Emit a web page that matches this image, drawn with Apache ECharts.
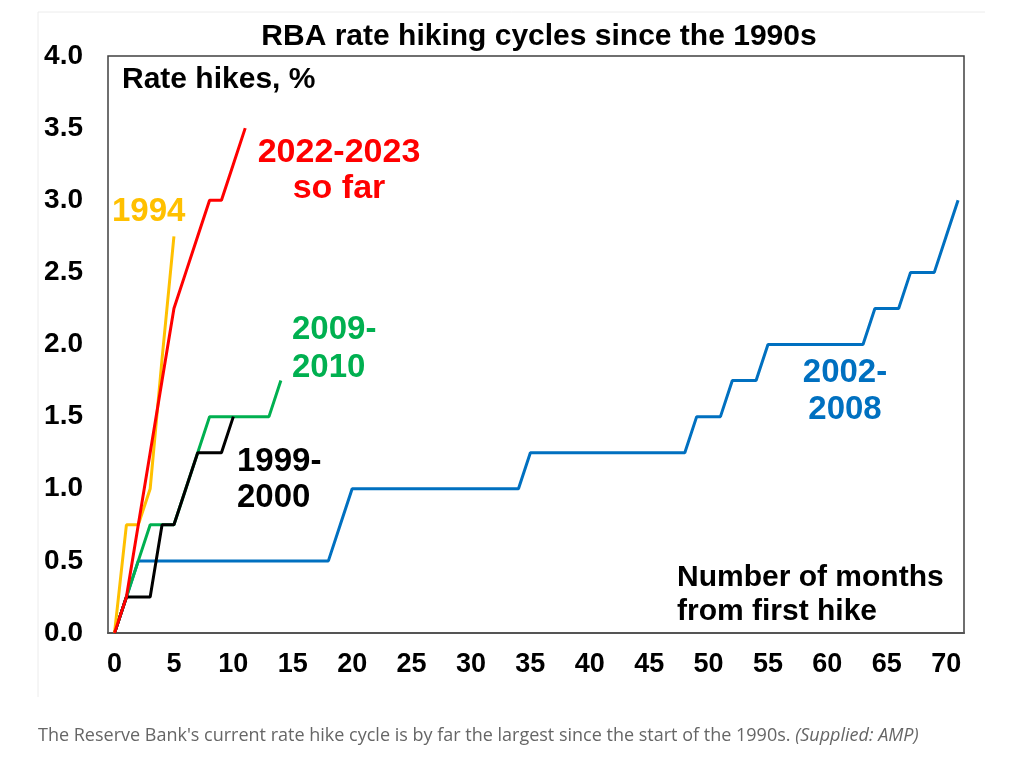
<!DOCTYPE html>
<html>
<head>
<meta charset="utf-8">
<script src="https://cdn.jsdelivr.net/npm/echarts@6/dist/echarts.min.js"></script>
<style>
  html, body { margin: 0; padding: 0; background: #fff; }
  #chart { width: 1027px; height: 768px; }
</style>
</head>
<body>
<div id="chart"></div>
<script>
// 数据：从首次加息起的月数 / 累计加息幅度(%)
const xTicks = [0, 5, 10, 15, 20, 25, 30, 35, 40, 45, 50, 55, 60, 65, 70];

const months2002 = [0, 1, 2, 18, 19, 20, 34, 35, 48, 49, 51, 52, 54, 55, 63, 64, 66, 67, 69, 70, 71];
const hikes2002  = [0, 0.25, 0.5, 0.5, 0.75, 1.0, 1.0, 1.25, 1.25, 1.5, 1.5, 1.75, 1.75, 2.0, 2.0, 2.25, 2.25, 2.5, 2.5, 2.75, 3.0];

const months2009 = [0, 1, 2, 3, 4, 5, 6, 7, 8, 9, 10, 11, 12, 13, 14];
const hikes2009  = [0, 0.25, 0.5, 0.75, 0.75, 0.75, 1.0, 1.25, 1.5, 1.5, 1.5, 1.5, 1.5, 1.5, 1.75];

const months1999 = [0, 1, 2, 3, 4, 5, 6, 7, 8, 9, 10];
const hikes1999  = [0, 0.25, 0.25, 0.25, 0.75, 0.75, 1.0, 1.25, 1.25, 1.25, 1.5];

const months1994 = [0, 1, 2, 3, 4, 5];
const hikes1994  = [0, 0.75, 0.75, 1.0, 1.9, 2.75];

const months2022 = [0, 1, 2, 3, 4, 5, 6, 7, 8, 9, 10, 11];
const hikes2022  = [0, 0.25, 0.75, 1.25, 1.75, 2.25, 2.5, 2.75, 3.0, 3.0, 3.25, 3.5];

const FONT = '"Liberation Sans", Arial, sans-serif';

function pairs(xs, ys) {
  return xs.map((x, i) => [x, ys[i]]);
}

function lineSeries(name, xs, ys, color) {
  return {
    name,
    type: 'line',
    data: pairs(xs, ys),
    showSymbol: false,
    lineStyle: { width: 3, color },
    itemStyle: { color },
    silent: true
  };
}

function label(text, x, y, color, size, align) {
  return {
    type: 'text',
    style: {
      text, x, y,
      fill: color,
      font: `bold ${size}px ${FONT}`,
      align: align || 'left',
      verticalAlign: 'middle'
    }
  };
}

const chart = echarts.init(document.getElementById('chart'));
chart.setOption({
  animation: false,
  backgroundColor: '#fff',
  grid: {
    left: 108, right: 63, top: 56, bottom: 135,
    show: true, borderColor: '#404040', borderWidth: 1.5
  },
  xAxis: {
    type: 'value',
    min: -0.55,
    max: 71.5,
    splitLine: { show: false },
    axisTick: { show: false },
    axisLine: { show: true, lineStyle: { color: '#555', width: 2 } },
    axisLabel: {
      customValues: xTicks,
      margin: 18,
      color: '#000',
      fontFamily: FONT,
      fontWeight: 'bold',
      fontSize: 27
    }
  },
  yAxis: {
    type: 'value',
    min: 0,
    max: 4,
    interval: 0.5,
    splitLine: { show: false },
    axisTick: { show: false },
    axisLine: { show: false },
    axisLabel: {
      margin: 25,
      color: '#000',
      fontFamily: FONT,
      fontWeight: 'bold',
      fontSize: 28,
      formatter: v => v.toFixed(1)
    }
  },
  series: [
    lineSeries('2002-2008', months2002, hikes2002, '#0070C0'),
    lineSeries('2009-2010', months2009, hikes2009, '#00B050'),
    lineSeries('1999-2000', months1999, hikes1999, '#000000'),
    lineSeries('1994', months1994, hikes1994, '#FFC000'),
    lineSeries('2022-2023', months2022, hikes2022, '#FF0000')
  ],
  graphic: [
    // 外框淡线
    { type: 'line', shape: { x1: 38, y1: 12, x2: 985, y2: 12 }, style: { stroke: '#ececec', lineWidth: 1 } },
    { type: 'line', shape: { x1: 38, y1: 12, x2: 38, y2: 697 }, style: { stroke: '#ececec', lineWidth: 1 } },
    label('RBA rate hiking cycles since the 1990s', 539, 37, '#000', 30, 'center'),
    label('Rate hikes, %', 122, 80, '#000', 30),
    label('2022-2023', 339, 153, '#FF0000', 34, 'center'),
    label('so far', 339, 189, '#FF0000', 34, 'center'),
    label('1994', 112, 212, '#FFC000', 33),
    label('2009-', 292, 330, '#00B050', 33),
    label('2010', 292, 368, '#00B050', 33),
    label('1999-', 237, 462, '#000', 33),
    label('2000', 237, 498, '#000', 33),
    label('2002-', 845, 373, '#0070C0', 33, 'center'),
    label('2008', 845, 410, '#0070C0', 33, 'center'),
    label('Number of months', 677, 578, '#000', 30),
    label('from first hike', 677, 612, '#000', 30),
    {
      type: 'text',
      style: {
        x: 38, y: 736, verticalAlign: 'middle',
        text: 'The Reserve Bank\'s current rate hike cycle is by far the largest since the start of the 1990s. {i|(Supplied: AMP)}',
        font: '18px "Open Sans", sans-serif',
        fill: '#666',
        rich: { i: { fontStyle: 'italic', fontSize: 18, fontFamily: '"Open Sans", sans-serif', fill: '#666' } }
      }
    }
  ]
});
</script>
</body>
</html>
